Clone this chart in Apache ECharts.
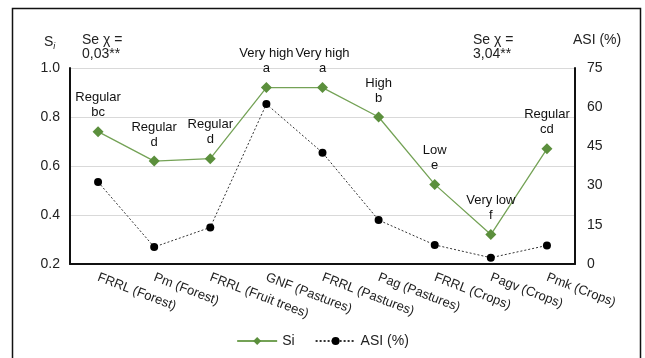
<!DOCTYPE html>
<html>
<head>
<meta charset="utf-8">
<script src="https://cdn.jsdelivr.net/npm/echarts@6/dist/echarts.min.js"></script>
<style>
  html, body { margin: 0; padding: 0; background: #fff; }
  #chart { width: 645px; height: 358px; }
</style>
</head>
<body>
<div id="chart"></div>
<script>
// Land-use units along the x axis
const categories = [
  'FRRL (Forest)', 'Pm (Forest)', 'FRRL (Fruit trees)', 'GNF (Pastures)',
  'FRRL (Pastures)', 'Pag (Pastures)', 'FRRL (Crops)', 'Pagv (Crops)', 'Pmk (Crops)'
];
// Structural stability index Si (left axis)
const siValues = [0.74, 0.62, 0.63, 0.92, 0.92, 0.80, 0.525, 0.32, 0.67];
// Class and significance group for each Si point
const siClasses = ['Regular', 'Regular', 'Regular', 'Very high', 'Very high', 'High', 'Low', 'Very low', 'Regular'];
const siGroups = ['bc', 'd', 'd', 'a', 'a', 'b', 'e', 'f', 'cd'];
// Aggregate stability index ASI in % (right axis)
const asiValues = [31.4, 6.5, 14.0, 61.2, 42.6, 16.8, 7.3, 2.4, 7.1];
// Axis ranges and steps
const siAxis = { min: 0.2, max: 1.0, step: 0.2 };
const asiAxis = { min: 0, max: 75, step: 15 };

const FONT = 'Liberation Sans, Arial, sans-serif';
const GREEN_LINE = '#74a256';
const GREEN_MARK = '#5b8f3c';

const chart = echarts.init(document.getElementById('chart'));
chart.setOption({
  animation: false,
  textStyle: { fontFamily: FONT },
  grid: { left: 70, right: 70, top: 68, bottom: 94, containLabel: false },
  legend: {
    bottom: 5,
    left: 'center',
    itemWidth: 40,
    itemHeight: 10,
    itemGap: 20,
    textStyle: { fontFamily: FONT, fontSize: 14, color: '#222' },
    data: ['Si', 'ASI (%)']
  },
  xAxis: {
    type: 'category',
    data: categories,
    boundaryGap: true,
    axisLine: { lineStyle: { color: '#111', width: 2 } },
    axisTick: { alignWithLabel: true, length: 4, lineStyle: { color: '#111', width: 2 } },
    axisLabel: {
      rotate: -21, interval: 0, margin: 13,
      fontFamily: FONT, fontSize: 13, color: '#222'
    }
  },
  yAxis: [
    {
      type: 'value',
      min: siAxis.min, max: siAxis.max, interval: siAxis.step,
      axisLine: { show: true, lineStyle: { color: '#111', width: 2 } },
      axisTick: { show: false },
      splitLine: { lineStyle: { color: '#d9d9d9', width: 1 } },
      axisLabel: {
        margin: 10, fontFamily: FONT, fontSize: 14, color: '#222',
        formatter: v => v.toFixed(1)
      }
    },
    {
      type: 'value',
      min: asiAxis.min, max: asiAxis.max, interval: asiAxis.step,
      position: 'right',
      axisLine: { show: true, lineStyle: { color: '#111', width: 2 } },
      axisTick: { show: false },
      splitLine: { show: false },
      axisLabel: { margin: 12, fontFamily: FONT, fontSize: 14, color: '#222' }
    }
  ],
  series: [
    {
      name: 'Si',
      type: 'line',
      yAxisIndex: 0,
      data: siValues,
      symbol: 'diamond',
      symbolSize: 11,
      itemStyle: { color: GREEN_MARK },
      lineStyle: { color: GREEN_LINE, width: 1.3 },
      label: {
        show: true,
        position: 'top',
        distance: 6,
        fontFamily: FONT,
        fontSize: 13,
        lineHeight: 15,
        color: '#111',
        align: 'center',
        formatter: p => siClasses[p.dataIndex] + '\n' + siGroups[p.dataIndex]
      },
      z: 3
    },
    {
      name: 'ASI (%)',
      type: 'line',
      yAxisIndex: 1,
      data: asiValues,
      symbol: 'circle',
      symbolSize: 8,
      itemStyle: { color: '#000' },
      lineStyle: { color: '#333', width: 1, type: [2, 2] },
      z: 2
    }
  ],
  graphic: [
    {
      type: 'rect',
      shape: { x: 12.5, y: 8.5, width: 628, height: 360 },
      style: { fill: 'none', stroke: '#111', lineWidth: 1.5 },
      silent: true
    },
    {
      type: 'text',
      left: 44, top: 35,
      style: {
        text: '{m|S}{s|i}',
        rich: {
          m: { fontFamily: FONT, fontSize: 14, fill: '#222' },
          s: { fontFamily: FONT, fontSize: 9, fontStyle: 'italic', fill: '#222', padding: [8, 0, 0, 0] }
        }
      }
    },
    {
      type: 'text',
      left: 82, top: 33,
      style: { text: 'Se χ =\n0,03**', fontFamily: FONT, fontSize: 14, lineHeight: 14, fill: '#222' }
    },
    {
      type: 'text',
      left: 473, top: 33,
      style: { text: 'Se χ =\n3,04**', fontFamily: FONT, fontSize: 14, lineHeight: 14, fill: '#222' }
    },
    {
      type: 'text',
      left: 573, top: 33,
      style: { text: 'ASI (%)', fontFamily: FONT, fontSize: 14, fill: '#222' }
    }
  ]
});
</script>
</body>
</html>
